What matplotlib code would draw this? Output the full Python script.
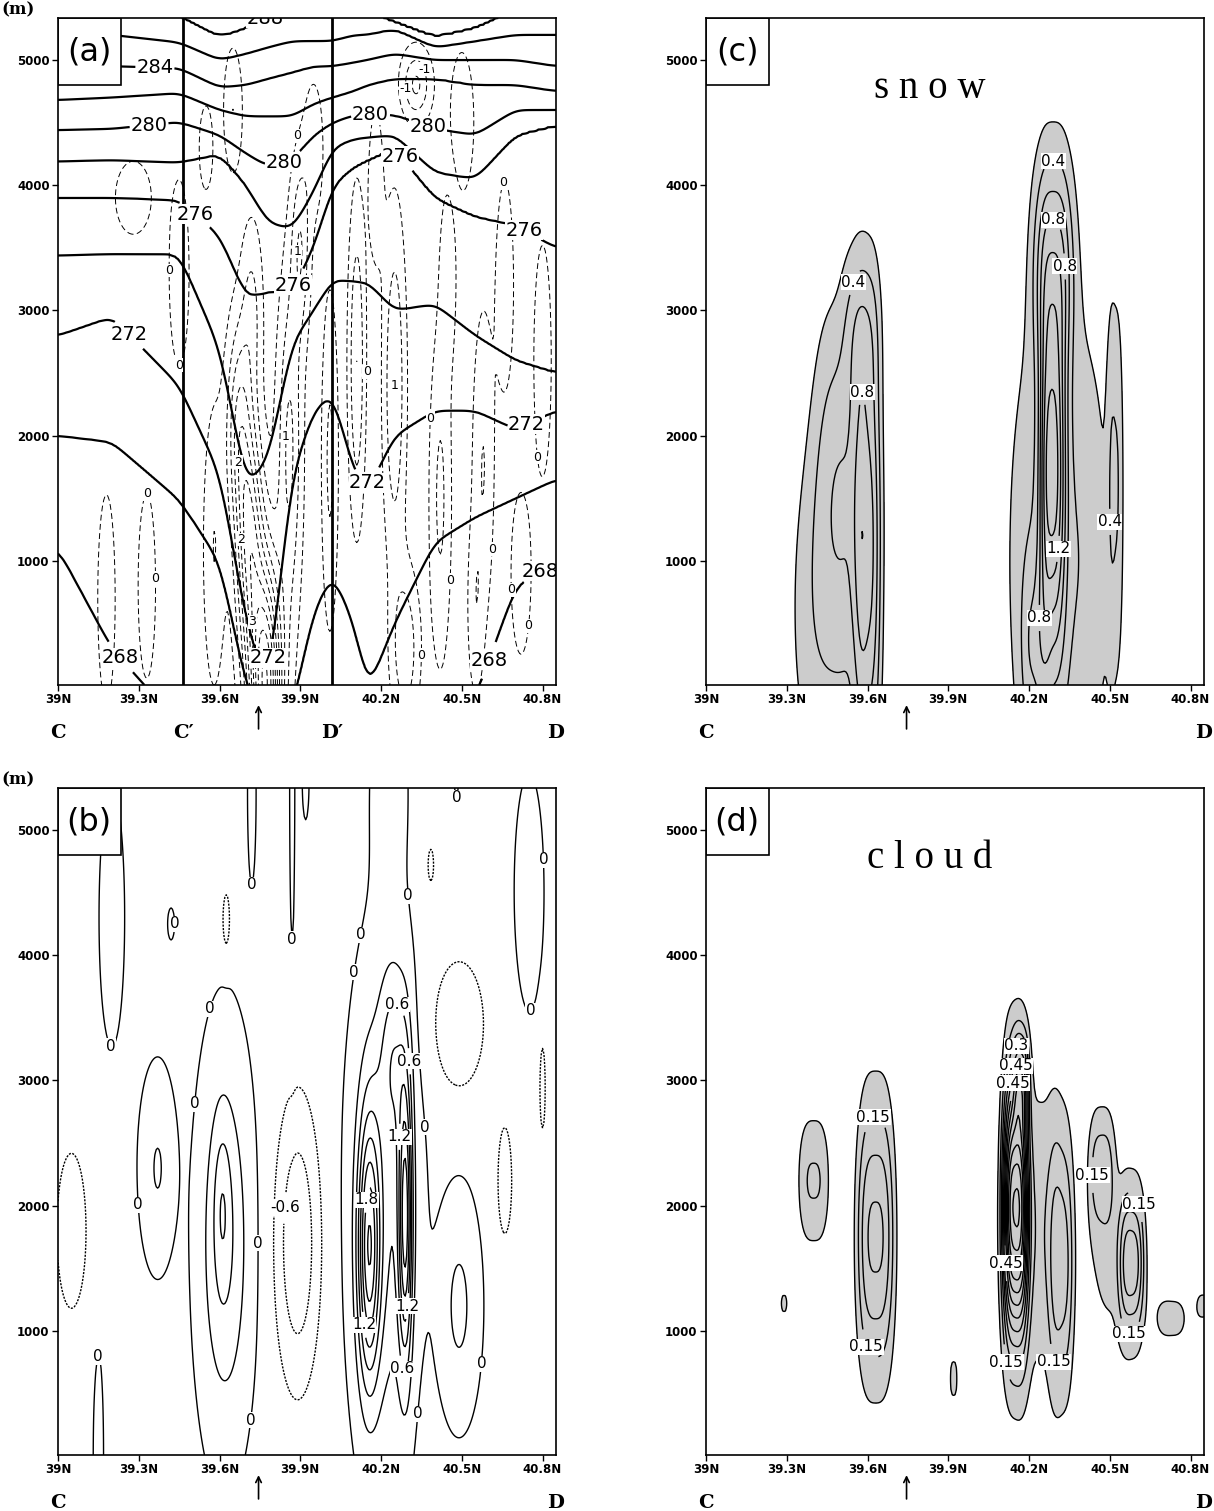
import numpy as np
import matplotlib
matplotlib.use('Agg')
import matplotlib.pyplot as plt
from matplotlib.patches import Rectangle

# grid of the cross section (latitude, height in m)
lat = np.linspace(39.0, 40.85, 371)
hgt = np.linspace(10, 5335, 300)
X, Z = np.meshgrid(lat, hgt)

# ---- (a) potential temperature: height (m) of each isentrope along the section
theta_lat = [39.0, 39.2, 39.45, 39.6, 39.7, 39.78, 39.87, 39.95, 40.02, 40.1,
             40.15, 40.25, 40.4, 40.55, 40.7, 40.85]
theta_lev = [264, 268, 270, 272, 274, 276, 278, 280, 282, 284, 286, 288, 292]
theta_hgt = [
    [-3000] * 16,
    [1100, 300, -300, -600, -900, -1000, -800, -300, -200, -300, -400, -300, -200, -100, 800, 1000],
    [2000, 1950, 1490, 1000, 0, -400, -200, 600, 900, 500, -50, 500, 1150, 1350, 1500, 1650],
    [2800, 2950, 2400, 1700, 500, -50, 1700, 2200, 2350, 1700, 1550, 2000, 2200, 2200, 2050, 2200],
    [3440, 3450, 3450, 2700, 1600, 1800, 2750, 3000, 3250, 3230, 3230, 3000, 3050, 2800, 2600, 2500],
    [3900, 3900, 3880, 3600, 3100, 3150, 3150, 3500, 4000, 4150, 4200, 4300, 3900, 3750, 3680, 3500],
    [4190, 4200, 4180, 4250, 4000, 3700, 3650, 3950, 4300, 4370, 4380, 4400, 4100, 4050, 4400, 4480],
    [4440, 4450, 4505, 4400, 4250, 4150, 4200, 4400, 4500, 4560, 4560, 4560, 4450, 4400, 4600, 4600],
    [4680, 4700, 4735, 4600, 4550, 4550, 4550, 4650, 4700, 4750, 4800, 4850, 4850, 4800, 4800, 4750],
    [4945, 4950, 4935, 4780, 4800, 4850, 4900, 4950, 4950, 4980, 5000, 5050, 5000, 5000, 5000, 4950],
    [5230, 5200, 5140, 5000, 5050, 5100, 5150, 5150, 5150, 5200, 5200, 5250, 5100, 5150, 5200, 5200],
    [5500, 5450, 5350, 5180, 5250, 5350, 5400, 5400, 5400, 5400, 5380, 5300, 5180, 5250, 5400, 5450],
    [7000] * 16,
]

# ---- blobs: latitude, height, half width (deg), half depth (m), amplitude
# (a) vertical velocity (dashed)
w_blobs = np.array([
    [39.77, 0, 0.06, 1000, 4.8],
    [39.71, 1200, 0.05, 900, 2.6],
    [39.67, 2100, 0.045, 800, 1.6],
    [39.72, 3000, 0.04, 700, 0.9],
    [39.86, 1900, 0.045, 1300, 1.4],
    [40.11, 2600, 0.03, 1200, 1.3],
    [40.25, 2400, 0.04, 1300, 1.3],
    [39.90, 3500, 0.035, 700, 1.2],
    [40.29, 300, 0.05, 600, 1.2],
    [40.33, 4800, 0.05, 250, -1.3],
    [39.58, 1100, 0.04, 1100, 0.8],
    [39.18, 700, 0.035, 900, 0.7],
    [39.33, 800, 0.035, 800, 0.7],
    [40.42, 1500, 0.04, 1300, 0.9],
    [40.58, 1800, 0.04, 1200, 0.8],
    [40.72, 900, 0.04, 700, 0.7],
    [40.66, 3200, 0.035, 900, 0.7],
    [39.45, 3300, 0.04, 800, 0.7],
    [39.28, 3900, 0.08, 350, 0.6],
    [39.65, 4600, 0.035, 500, 0.8],
    [40.50, 4500, 0.04, 500, -0.7],
    [40.01, 1800, 0.03, 1300, 0.9],
    [39.55, 4300, 0.03, 400, 0.6],
    [40.80, 2600, 0.035, 1000, 0.7],
    [40.45, 3300, 0.03, 700, 0.7],
    [39.95, 4300, 0.04, 600, 0.6],
    [40.18, 4000, 0.03, 700, 0.6],
    [40.55, 600, 0.03, 700, 0.6],
])
w_bg = -0.3

# (b)
b_blobs = np.array([
    [40.21, 2000, 0.11, 1700, 0.7],
    [40.155, 1650, 0.04, 1000, 1.7],
    [40.29, 1900, 0.025, 1100, 1.7],
    [40.25, 3200, 0.05, 700, 0.6],
    [39.62, 1700, 0.09, 1400, 0.7],
    [39.61, 2000, 0.03, 600, 0.35],
    [39.37, 2300, 0.06, 700, 0.4],
    [39.89, 1700, 0.08, 1100, -0.8],
    [40.49, 3450, 0.10, 550, -0.5],
    [40.66, 2200, 0.03, 500, -0.45],
    [40.49, 1200, 0.07, 800, 0.45],
    [39.05, 1800, 0.07, 800, -0.4],
    [39.15, 0, 0.02, 900, 0.2],
    [39.72, 5300, 0.02, 900, 0.15],
    [39.87, 5400, 0.012, 1700, 0.15],
    [39.92, 5400, 0.02, 500, 0.12],
    [40.23, 5400, 0.07, 900, 0.2],
    [40.48, 5400, 0.015, 300, 0.1],
    [40.75, 4500, 0.07, 1200, 0.15],
    [39.20, 4300, 0.06, 1300, 0.15],
    [39.42, 4250, 0.02, 200, 0.12],
    [39.625, 4280, 0.015, 250, -0.45],
    [40.385, 4720, 0.012, 150, -0.45],
    [40.80, 2950, 0.012, 400, -0.45],
])
b_bg = -0.08

# (c) snow
snow_blobs = np.array([
    [39.47, 600, 0.16, 1500, 0.38],
    [39.52, 1900, 0.12, 1300, 0.40],
    [39.58, 2900, 0.07, 650, 0.30],
    [39.60, 900, 0.05, 1800, 0.55],
    [40.31, 1000, 0.20, 2200, 0.42],
    [40.29, 1800, 0.05, 1500, 0.85],
    [40.28, 1700, 0.035, 1200, 0.30],
    [40.29, 3400, 0.08, 900, 0.60],
    [40.52, 1700, 0.03, 1500, 0.32],
    [40.22, 300, 0.05, 700, 0.30],
])

# (d) cloud
cloud_blobs = np.array([
    [39.40, 2200, 0.06, 550, 0.16],
    [39.29, 1220, 0.015, 120, 0.10],
    [39.63, 1750, 0.07, 1100, 0.32],
    [39.92, 620, 0.018, 250, 0.10],
    [40.15, 2000, 0.045, 1000, 0.80],
    [40.17, 3000, 0.03, 350, 0.25],
    [40.22, 1800, 0.13, 1300, 0.14],
    [40.32, 1500, 0.045, 1000, 0.20],
    [40.47, 2300, 0.05, 500, 0.18],
    [40.58, 1550, 0.045, 550, 0.28],
    [40.53, 1500, 0.12, 800, 0.09],
    [40.73, 1100, 0.07, 250, 0.10],
    [40.85, 1200, 0.04, 200, 0.09],
])

xticks = [39.0, 39.3, 39.6, 39.9, 40.2, 40.5, 40.8]
yticks = [1000, 2000, 3000, 4000, 5000]


def blob_field(tab, bg=0.0, p=2):
    f = np.full(X.shape, bg, dtype=float)
    for la, zc, sx, sz, a in tab:
        f += a * np.exp(-np.abs((X - la) / sx) ** p - ((Z - zc) / sz) ** 2)
    return f


def theta_field():
    k = np.exp(-0.5 * (np.arange(-15, 16) / 5.0) ** 2)
    k /= k.sum()
    H = []
    for row in theta_hgt:
        r = np.pad(np.interp(lat, theta_lat, row), 15, mode='edge')
        H.append(np.convolve(r, k, mode='valid'))
    H = np.array(H)
    th = np.empty(X.shape)
    for j in range(len(lat)):
        th[:, j] = np.interp(hgt, H[:, j], theta_lev)
    return th


def fmt(v):
    return '%g' % (round(v, 3) + 0.0)


def setup(ax, tag, marks):
    ax.set_xlim(39.0, 40.85)
    ax.set_ylim(10, 5335)
    ax.set_xticks(xticks)
    ax.set_xticklabels(['%gN' % v for v in xticks])
    ax.set_yticks(yticks)
    ax.tick_params(direction='out', length=4, width=1, labelsize=8.5, pad=2)
    for t in ax.get_xticklabels() + ax.get_yticklabels():
        t.set_fontweight('bold')
    for s in ax.spines.values():
        s.set_linewidth(1.2)
        s.set_zorder(8)
    ax.add_patch(Rectangle((0, 1 - 67 / 667), 63 / 498, 67 / 667, transform=ax.transAxes,
                           fc='white', ec='black', lw=1.2, zorder=6))
    ax.text(31 / 498, 1 - 34 / 667, tag, transform=ax.transAxes, ha='center', va='center',
            fontsize=23, zorder=7)
    tr = ax.get_xaxis_transform()
    for x, s in marks:
        ax.text(x, -0.072, s, transform=tr, ha='center', va='center', fontsize=14,
                family='DejaVu Serif', fontweight='bold', clip_on=False)
    ax.annotate('', xy=(39.745, -0.026), xytext=(39.745, -0.07), xycoords=tr,
                arrowprops=dict(arrowstyle='->', lw=1.2, color='black'), annotation_clip=False)


def contours(ax, f, levels, lab_levels, pos, size, lw, style=None):
    # labelled and unlabelled levels go in separate sets, only the first gets labels
    lab = [v for v in levels if np.any(np.isclose(v, lab_levels))]
    rest = [v for v in levels if not np.any(np.isclose(v, lab_levels))]
    sets = []
    for lv in (lab, rest):
        if not lv:
            continue
        cs = ax.contour(X, Z, f, levels=lv, colors='black', linewidths=lw)
        if style is not None:
            cs.set_linestyle([style(v) for v in cs.levels])
        sets.append(cs)
    txt = ax.clabel(sets[0], inline=True, fmt=fmt, fontsize=size, manual=pos,
                    inline_spacing=1, zorder=5)
    for t in txt:
        t.set_rotation(0)
        t.set_bbox(dict(fc='white', ec='none', pad=0.3))
    return sets


fig = plt.figure(figsize=(12.14, 15.11), dpi=100)
W = 498 / 1214
Hh = 667 / 1511
axa = fig.add_axes([58 / 1214, 1 - 685 / 1511, W, Hh])
axc = fig.add_axes([706 / 1214, 1 - 685 / 1511, W, Hh])
axb = fig.add_axes([58 / 1214, 1 - 1455 / 1511, W, Hh])
axd = fig.add_axes([706 / 1214, 1 - 1455 / 1511, W, Hh])

for y in (10, 780):
    fig.text(18 / 1214, 1 - y / 1511, '(m)', ha='center', va='center', fontsize=12,
             family='DejaVu Serif', fontweight='bold')

# ---- (a)
th = theta_field()
w = blob_field(w_blobs, w_bg)
contours(axa, w, np.arange(-1.5, 5.01, 0.5), [-1, 0, 1, 2, 3, 4],
         [(39.32, 2126), (39.32, 1590), (39.45, 864), (39.41, 3320), (39.81, 4440),
          (40.52, 4320), (40.57, 5070), (40.39, 2140), (40.57, 1100), (40.42, 850),
          (40.70, 770), (40.83, 465), (40.79, 1830), (40.11, 2510), (40.25, 2405),
          (39.85, 1990), (39.89, 3470), (40.29, 250), (39.68, 1790), (39.67, 1170),
          (39.72, 513), (40.33, 4776)], 9, 0.7, style=lambda v: (0, (6, 3.5)))
contours(axa, th, np.arange(268, 289, 2), [268, 272, 276, 280, 284, 288],
         [(39.36, 4945), (39.81, 5200), (39.34, 4440), (39.585, 3940), (40.16, 4776),
          (40.39, 4580), (39.85, 4120), (39.90, 3150), (40.29, 4280), (40.74, 3667),
          (39.34, 2950), (40.75, 2046), (40.16, 1527), (39.77, 233), (39.14, 66),
          (40.78, 950), (40.78, 66)], 14, 1.6)
for x in (39.465, 40.017):
    axa.axvline(x, color='black', lw=2, zorder=4)
setup(axa, '(a)', [(39.0, 'C'), (39.465, "C\u2032"), (40.017, "D\u2032"), (40.85, 'D')])

# ---- (b)
bf = blob_field(b_blobs, b_bg)
contours(axb, bf, np.round(np.arange(-0.9, 2.41, 0.3), 2), [-0.6, 0, 0.6, 1.2, 1.8],
         [(40.16, 4150), (40.28, 3650), (40.28, 3150), (40.28, 2550), (40.14, 2050),
          (40.29, 1200), (40.14, 1050), (40.28, 700), (40.28, 350), (39.57, 2800),
          (39.67, 300), (39.86, 1980), (39.77, 1700), (39.23, 2000), (39.60, 3550),
          (39.19, 3250), (39.43, 4250), (39.72, 4500), (39.85, 3750), (39.98, 3900),
          (40.27, 4470), (40.45, 4950), (40.78, 4760), (40.80, 3450), (40.52, 2650),
          (39.14, 800), (40.77, 700)], 11, 1.0,
         style=lambda v: 'solid' if v >= -1e-9 else (0, (1.5, 1)))
setup(axb, '(b)', [(39.0, 'C'), (40.85, 'D')])

# ---- (c)
sf = blob_field(snow_blobs, p=3)
axc.contourf(X, Z, sf, levels=[0.2, 10], colors=['#cccccc'])
contours(axc, sf, np.round(np.arange(0.2, 1.61, 0.2), 2), [0.4, 0.8, 1.2],
         [(39.58, 3200), (39.57, 2365), (40.29, 4200), (40.29, 3835), (40.29, 3347),
          (40.29, 1100), (40.47, 1311), (40.245, 545)], 11, 1.0)
axc.text(0.45, 0.895, 's n o w', transform=axc.transAxes, ha='center', va='center',
         fontsize=28, family='Liberation Serif')
setup(axc, '(c)', [(39.0, 'C'), (40.85, 'D')])

# ---- (d)
cf = blob_field(cloud_blobs, p=3)
axd.contourf(X, Z, cf, levels=[0.075, 10], colors=['#cccccc'])
contours(axd, cf, np.round(np.arange(0.075, 1.2, 0.075), 3), [0.15, 0.3, 0.45],
         [(39.61, 2870), (39.62, 890), (40.15, 3280), (40.15, 3120), (40.15, 2980),
          (40.47, 2245), (40.60, 2006), (40.11, 1540), (40.56, 890), (40.11, 750),
          (40.28, 750)], 11, 1.0)
axd.text(0.45, 0.895, 'c l o u d', transform=axd.transAxes, ha='center', va='center',
         fontsize=28, family='Liberation Serif')
setup(axd, '(d)', [(39.0, 'C'), (40.85, 'D')])

fig.savefig('out.png', dpi=100)
